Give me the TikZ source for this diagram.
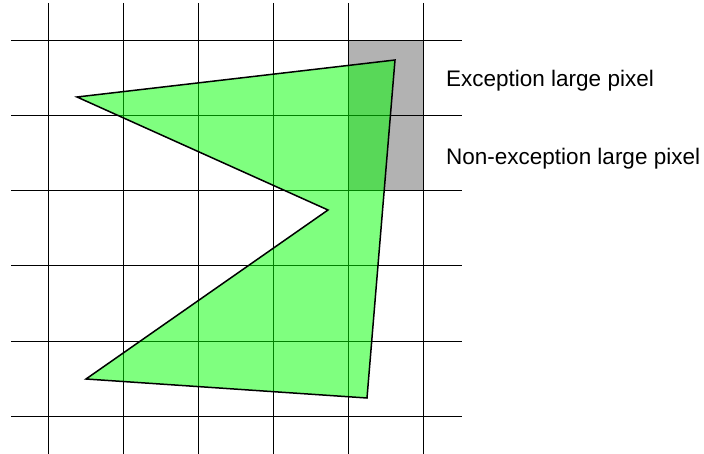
\documentclass[tikz,border=0pt]{standalone}
\usepackage{fontspec}
\setmainfont{Liberation Sans}
\begin{document}
\begin{tikzpicture}[x=1pt,y=-1pt,
  gridline/.style={black, line width=1pt},
  cellfill/.style={fill=black!30},
  shapepoly/.style={fill=green, fill opacity=0.5, draw=black, draw opacity=1, line width=1.5pt, line join=miter},
  lab/.style={anchor=base west, inner sep=0pt, font=\fontsize{22.5}{26}\selectfont}]
\useasboundingbox (0,0) rectangle (704,454);
% shaded large pixel
\fill[cellfill] (348,41) rectangle (423,191);
% grid
\foreach \x in {48,123,198,273,348,423}
  \draw[gridline] (\x,3) -- (\x,454);
\foreach \y in {41,116,191,266,341,416}
  \draw[gridline] (11,\y) -- (462,\y);
% polygon
\draw[shapepoly] (395,60) -- (77,97) -- (328,210) -- (86,379) -- (367,398) -- cycle;
% labels
\node[lab] (exc) at (446,87) {Exception large pixel};
\node[lab] (nonexc) at (446,165) {Non-exception large pixel};
\end{tikzpicture}
\end{document}
